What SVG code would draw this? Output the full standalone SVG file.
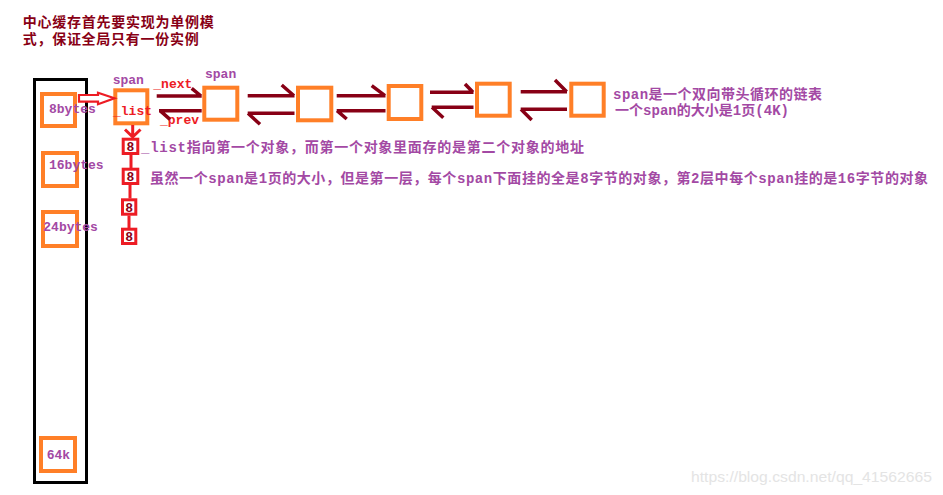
<svg xmlns="http://www.w3.org/2000/svg" width="943" height="495" viewBox="0 0 943 495">
<style>
.bg{fill:#ffffff}
.cjk{font-family:"Liberation Mono","Noto Sans CJK SC",monospace;font-weight:bold;font-size:14px}
.mono{font-family:"Liberation Mono","Noto Sans CJK SC",monospace;font-weight:bold;font-size:13px}
.title{fill:#880015}
.purple{fill:#a349a4}
.red{fill:#ed1c24}
.dred{fill:#880015}
.ob{fill:none;stroke:#ff7f27;stroke-width:4}
.rb{fill:none;stroke:#ed1c24;stroke-width:3}
.link{fill:none;stroke:#880015;stroke-width:3.5;stroke-linecap:butt}
.rl{fill:none;stroke:#ed1c24;stroke-width:3}
.wm{font-family:"Liberation Sans",Arial,sans-serif;font-size:15px;fill:#e4e4e4}
</style>
<rect class="bg" x="0" y="0" width="943" height="495"/>

<g id="title">
<text class="cjk title" x="22.7" y="26.5" textLength="191" lengthAdjust="spacing">中心缓存首先要实现为单例模</text>
<text class="cjk title" x="22.7" y="44" textLength="176" lengthAdjust="spacing">式，保证全局只有一份实例</text>
</g>

<g id="central-cache">
<rect x="34.5" y="79.5" width="52" height="403" fill="none" stroke="#000000" stroke-width="3"/>
</g>
<g id="bucket-8">
<rect class="ob" x="42" y="94" width="33" height="32"/>
<text class="mono purple" x="49" y="113">8bytes</text>
</g>
<g id="bucket-16">
<rect class="ob" x="43" y="153" width="34" height="33"/>
<text class="mono purple" x="49" y="169">16bytes</text>
</g>
<g id="bucket-24">
<rect class="ob" x="43" y="212" width="34" height="34"/>
<text class="mono purple" x="43.3" y="231">24bytes</text>
</g>
<g id="bucket-64k">
<rect class="ob" x="41" y="438" width="34" height="33"/>
<text class="mono purple" x="46.7" y="459">64k</text>
</g>

<g id="span1">
<rect class="ob" x="115.3" y="90.3" width="32" height="33"/>
<text class="mono purple" x="112.7" y="84">span</text>
<text class="mono red" x="113" y="114.5">_list</text>
</g>
<g id="span2">
<rect class="ob" x="204.3" y="87.7" width="33" height="32"/>
<text class="mono purple" x="205" y="78">span</text>
</g>
<g id="span3"><rect class="ob" x="298" y="87.7" width="33.3" height="32.6"/></g>
<g id="span4"><rect class="ob" x="388.7" y="86" width="32.6" height="33"/></g>
<g id="span5"><rect class="ob" x="477" y="83.7" width="32.7" height="32"/></g>
<g id="span6"><rect class="ob" x="571.3" y="83.7" width="32.4" height="32"/></g>

<g id="obj1"><rect class="rb" x="123.2" y="139.2" width="14.6" height="14.3"/><text class="mono dred" x="130.5" y="151" text-anchor="middle" font-size="12">8</text></g>
<g id="obj2"><rect class="rb" x="123.2" y="169.2" width="14.6" height="14.3"/><text class="mono dred" x="130.5" y="181" text-anchor="middle" font-size="12">8</text></g>
<g id="obj3"><rect class="rb" x="122.5" y="199.8" width="13.3" height="14.4"/><text class="mono dred" x="129.2" y="211.5" text-anchor="middle" font-size="12">8</text></g>
<g id="obj4"><rect class="rb" x="122.5" y="229.2" width="13.3" height="14.3"/><text class="mono dred" x="129.2" y="241" text-anchor="middle" font-size="12">8</text></g>

<g id="connectors">
<polygon points="79,95 98,95 98,92.7 114.5,98.3 98,104.3 98,101.7 79,101.7" fill="#ffffff" stroke="#ed1c24" stroke-width="2.2" stroke-linejoin="miter"/>
<text class="mono red" x="153.3" y="88">_next</text>
<text class="mono red" x="160" y="124">_prev</text>
<path class="link" d="M156.7 96 H201.7 M191.7 88.3 L201 96 M159 110.7 H201.7 M160 110.7 L170 119.3"/>
<path class="link" d="M247.7 95.7 H294.5 M281.7 85 L294 95.7 M247.7 113.3 H294.5 M248 113.3 L260 124.3"/>
<path class="link" d="M336.7 95.7 H385.5 M371.7 85.7 L385 95.7 M336.7 110.7 H385.5 M337 110.7 L346.7 119"/>
<path class="link" d="M430 92.3 H473.5 M465 84 L473 92.3 M431.7 107.3 H473.5 M432 107.3 L443.3 117.7"/>
<path class="link" d="M520.7 91.7 H567 M555 80 L566.7 91.7 M520.7 109.3 H567 M521 109.3 L531.7 120"/>
<path class="rl" d="M132.7 125 V137.5 M125 129.5 L132.7 137 L140.5 129.5"/>
<path class="rl" d="M131 155 V168 M130 185 V198.5 M129 215.5 V228"/>
</g>

<g id="notes">
<text class="cjk purple" x="613" y="98.5" textLength="209" lengthAdjust="spacing">span是一个双向带头循环的链表</text>
<text class="cjk purple" x="615" y="115" textLength="174" lengthAdjust="spacing">一个span的大小是1页(4K)</text>
<text class="cjk purple" x="141" y="151.5" textLength="443" lengthAdjust="spacing">_list指向第一个对象，而第一个对象里面存的是第二个对象的地址</text>
<text class="cjk purple" x="150" y="182.7" textLength="778" lengthAdjust="spacing">虽然一个span是1页的大小，但是第一层，每个span下面挂的全是8字节的对象，第2层中每个span挂的是16字节的对象</text>
</g>

<text class="wm" x="691" y="481.5" textLength="241" lengthAdjust="spacingAndGlyphs">https://blog.csdn.net/qq_41562665</text>
</svg>
